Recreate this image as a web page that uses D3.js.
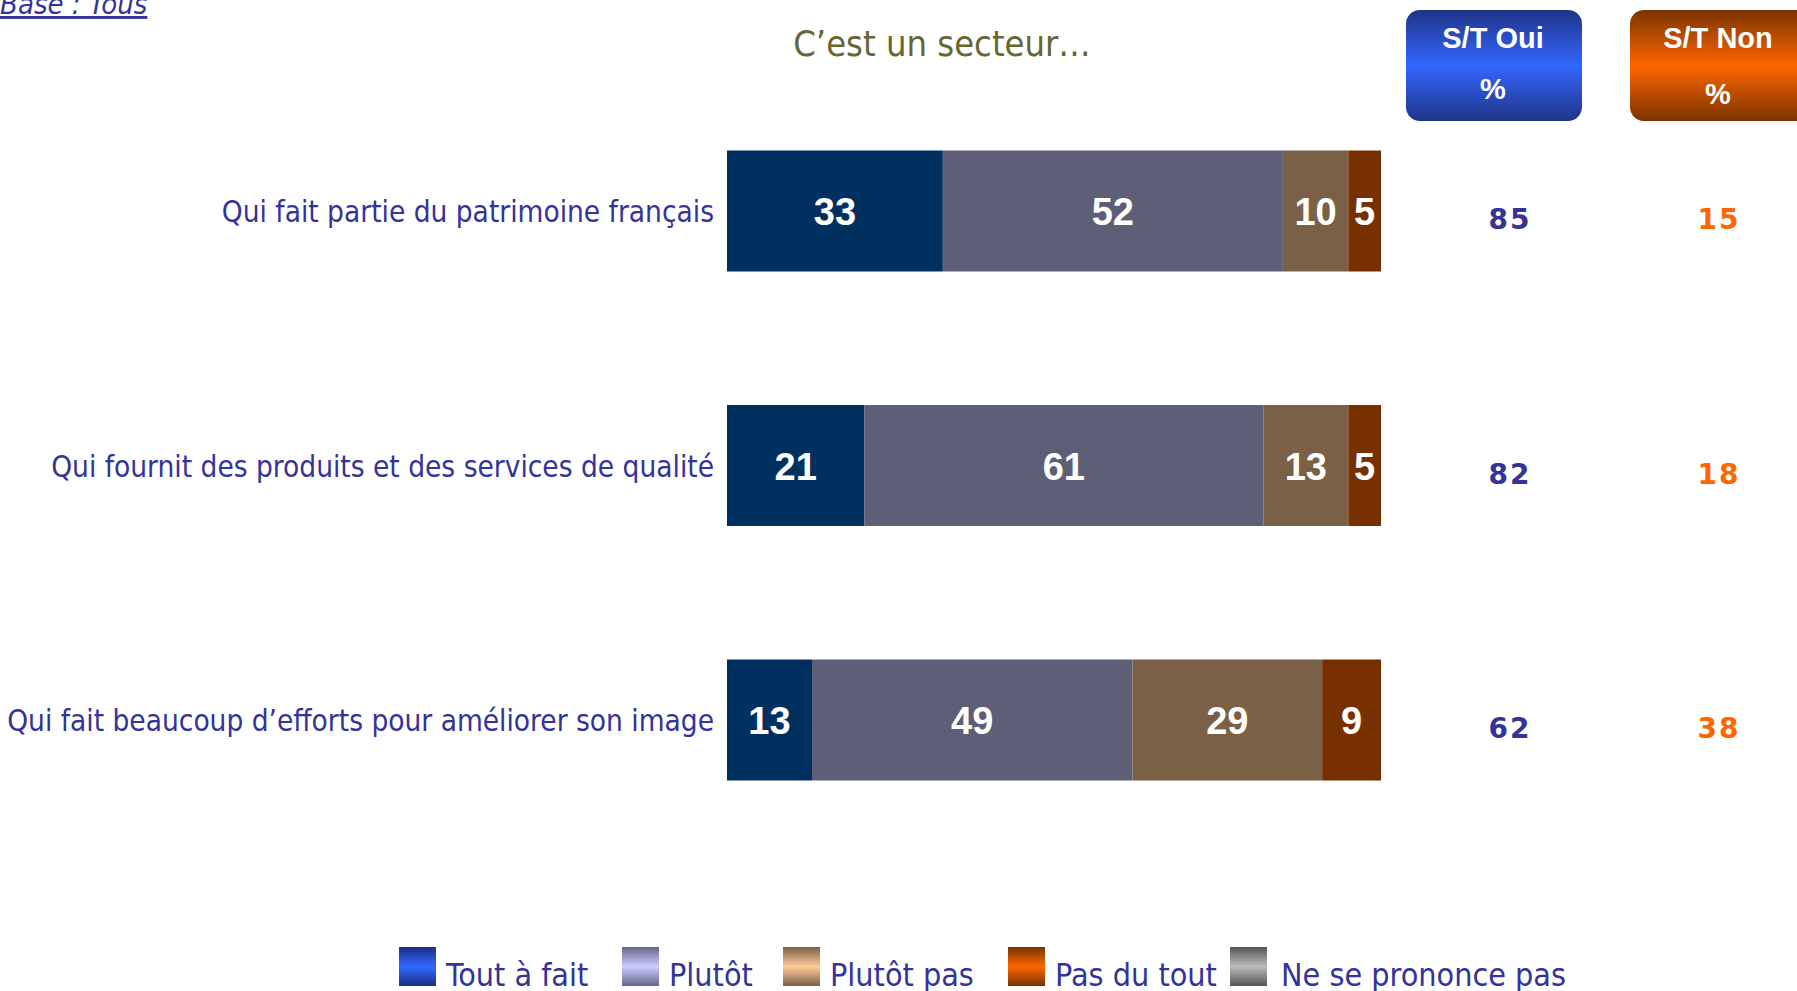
<!DOCTYPE html>
<html>
<head>
<meta charset="utf-8">
<script src="https://cdn.jsdelivr.net/npm/d3@7"></script>
<style>
  body { margin: 0; background: #fff; }
  svg { display: block; }
  .lbl { font-family: "DejaVu Sans", sans-serif; font-stretch: condensed; fill: #333399; }
</style>
</head>
<body>
<svg id="chart" width="1797" height="991"></svg>
<script>
// data
var rows = ["Qui fait partie du patrimoine français",
            "Qui fournit des produits et des services de qualité",
            "Qui fait beaucoup d’efforts pour améliorer son image"];
var series = ["Tout à fait", "Plutôt", "Plutôt pas", "Pas du tout", "Ne se prononce pas"];
var toutAFait = [33, 21, 13];
var plutot = [52, 61, 49];
var plutotPas = [10, 13, 29];
var pasDuTout = [5, 5, 9];
var nspp = [0, 0, 0];
var stOui = [85, 82, 62];
var stNon = [15, 18, 38];

var barColors = ["#00305f", "#5e5e77", "#7a6047", "#773100", "#808080"];
// legend swatch gradients [edge, middle]
var swatchGrad = [["#1a2f85", "#3366ff"], ["#66668a", "#ccccff"], ["#7a5f46", "#ffcc99"],
                  ["#773300", "#ff6600"], ["#555555", "#bbbbbb"]];

var table = rows.map(function(r, i) {
  return {row: r, "Tout à fait": toutAFait[i], "Plutôt": plutot[i], "Plutôt pas": plutotPas[i],
          "Pas du tout": pasDuTout[i], "Ne se prononce pas": nspp[i]};
});

var svg = d3.select("#chart");
var defs = svg.append("defs");

var x = d3.scaleLinear().domain([0, 100]).range([727, 1381]);
var y = d3.scalePoint().domain(rows).range([211, 720]);
var barH = 121;

var stack = d3.stack().keys(series)(table);

// bars
var layer = svg.selectAll("g.layer")
    .data(stack)
  .enter().append("g")
    .attr("class", "layer")
    .attr("fill", function(d, i) { return barColors[i]; });

layer.selectAll("rect")
    .data(function(d) { return d; })
  .enter().append("rect")
    .attr("x", function(d) { return x(d[0]); })
    .attr("y", function(d) { return y(d.data.row) - barH / 2; })
    .attr("width", function(d) { return x(d[1]) - x(d[0]); })
    .attr("height", barH);

// values inside bars
layer.selectAll("text")
    .data(function(d) { return d.filter(function(s) { return s[1] - s[0] > 0; }); })
  .enter().append("text")
    .attr("x", function(d) { return (x(d[0]) + x(d[1])) / 2; })
    .attr("y", function(d) { return y(d.data.row); })
    .attr("dy", "0.37em")
    .attr("text-anchor", "middle")
    .style("font-family", "'Liberation Sans', Arial, sans-serif")
    .style("font-weight", "bold")
    .style("font-size", "38px")
    .attr("fill", "#fff")
    .text(function(d) { return d[1] - d[0]; });

// row labels
svg.selectAll("text.row")
    .data(rows)
  .enter().append("text")
    .attr("class", "row lbl")
    .attr("x", 714)
    .attr("y", function(d) { return y(d); })
    .attr("dy", "0.38em")
    .attr("text-anchor", "end")
    .style("font-size", "29.5px")
    .text(function(d) { return d; });

// S/T columns
var colOui = 1510, colNon = 1719;
svg.selectAll("text.oui")
    .data(stOui)
  .enter().append("text")
    .attr("x", colOui)
    .attr("y", function(d, i) { return y(rows[i]) + 8; })
    .attr("dy", "0.36em")
    .attr("text-anchor", "middle")
    .style("font-family", "'DejaVu Sans', sans-serif")
    .style("font-weight", "bold")
    .style("font-size", "28px")
    .style("letter-spacing", "2px")
    .attr("fill", "#333399")
    .text(function(d) { return d; });

svg.selectAll("text.non")
    .data(stNon)
  .enter().append("text")
    .attr("x", colNon)
    .attr("y", function(d, i) { return y(rows[i]) + 8; })
    .attr("dy", "0.36em")
    .attr("text-anchor", "middle")
    .style("font-family", "'DejaVu Sans', sans-serif")
    .style("font-weight", "bold")
    .style("font-size", "28px")
    .style("letter-spacing", "2px")
    .attr("fill", "#ff6600")
    .text(function(d) { return d; });

// header boxes
function vgrad(id, edge, mid) {
  var g = defs.append("linearGradient").attr("id", id)
      .attr("x1", 0).attr("y1", 0).attr("x2", 0).attr("y2", 1);
  g.append("stop").attr("offset", "0%").attr("stop-color", edge);
  g.append("stop").attr("offset", "50%").attr("stop-color", mid);
  g.append("stop").attr("offset", "100%").attr("stop-color", edge);
}
vgrad("gOui", "#1f3488", "#3366ff");
vgrad("gNon", "#7a3300", "#ff6600");

var heads = [{t: "S/T Oui", tx: 1493, x: 1406, w: 176, g: "gOui", py: 99},
             {t: "S/T Non", tx: 1718, x: 1630, w: 190, g: "gNon", py: 104}];
heads.forEach(function(h) {
  svg.append("rect").attr("x", h.x).attr("y", 10).attr("width", h.w).attr("height", 111)
    .attr("rx", 14).attr("fill", "url(#" + h.g + ")");
  svg.append("text").attr("x", h.tx).attr("y", 48).attr("text-anchor", "middle")
    .style("font-family", "'Liberation Sans', Arial, sans-serif").style("font-weight", "bold")
    .style("font-size", "29px").attr("fill", "#fff").text(h.t);
  svg.append("text").attr("x", h.tx).attr("y", h.py).attr("text-anchor", "middle")
    .style("font-family", "'Liberation Sans', Arial, sans-serif").style("font-weight", "bold")
    .style("font-size", "29px").attr("fill", "#fff").text("%");
});

// title
svg.append("text")
    .attr("x", 942).attr("y", 56)
    .attr("text-anchor", "middle")
    .style("font-family", "'DejaVu Sans', sans-serif")
    .style("font-stretch", "condensed")
    .style("font-size", "36px")
    .attr("fill", "#666633")
    .text("C’est un secteur…");

// base
svg.append("text")
    .attr("class", "lbl")
    .attr("x", 0).attr("y", 14)
    .style("font-size", "29px")
    .style("font-style", "italic")
    .style("text-decoration", "underline")
    .text("Base : Tous");

// legend
series.forEach(function(s, i) {
  vgrad("leg" + i, swatchGrad[i][0], swatchGrad[i][1]);
});
var legX = [399, 622, 783, 1008, 1230];
var leg = svg.selectAll("g.leg")
    .data(series)
  .enter().append("g")
    .attr("class", "leg")
    .attr("transform", function(d, i) { return "translate(" + legX[i] + ",0)"; });

leg.append("rect")
    .attr("y", 947).attr("width", 37).attr("height", 39)
    .attr("fill", function(d, i) { return "url(#leg" + i + ")"; });

leg.append("text")
    .attr("class", "lbl")
    .attr("x", function(d, i) { return i === 4 ? 51 : 47; })
    .attr("y", 986)
    .style("font-size", "32px")
    .text(function(d) { return d; });
</script>
</body>
</html>
